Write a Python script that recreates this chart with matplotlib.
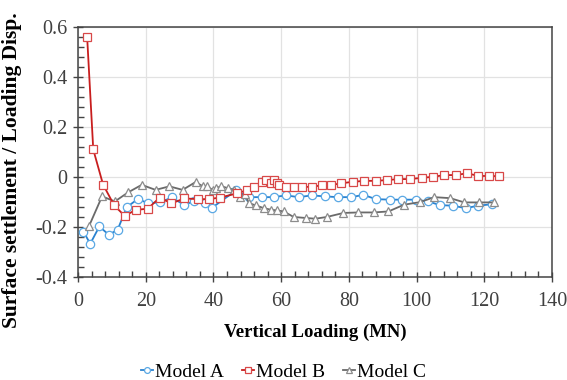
import numpy as np
import matplotlib
matplotlib.use('Agg')
import matplotlib.pyplot as plt
from matplotlib.ticker import MultipleLocator

plt.rcParams['font.family'] = ['Liberation Serif', 'DejaVu Serif']

# Model A (circles)
a_x = [1.6, 3.6, 6.3, 9.1, 11.7, 14.4, 17.6, 20.8, 24.3, 27.7, 31.2, 34.4, 37.4, 39.6,
       46.7, 50.5, 54.3, 57.8, 61.4, 65.2, 69.0, 72.9, 76.8, 80.7, 84.3, 88.0,
       92.1, 95.8, 99.7, 103.3, 107.0, 110.7, 114.5, 118.2, 122.4]
a_y = [-0.217, -0.266, -0.197, -0.23, -0.21, -0.12, -0.088, -0.104, -0.101, -0.081, -0.11, -0.097, -0.104, -0.122,
       -0.053, -0.08, -0.08, -0.08, -0.073, -0.08, -0.073, -0.077, -0.08, -0.08, -0.071, -0.088,
       -0.09, -0.09, -0.09, -0.097, -0.112, -0.114, -0.124, -0.114, -0.108]

# Model B (squares)
b_x = [2.7, 4.5, 7.4, 10.7, 13.8, 17.0, 20.6, 24.1, 27.6, 31.4, 35.4, 38.6, 41.8,
       47.0, 49.9, 51.9, 54.4, 55.4, 56.9, 57.9, 58.9, 59.4, 61.4, 63.8, 66.3, 69.2,
       72.2, 74.7, 77.6, 81.1, 84.6, 88.0, 91.2, 94.6, 98.1, 101.5, 104.9, 108.2,
       111.5, 114.9, 118.2, 121.3, 124.2]
b_y = [0.557, 0.11, -0.03, -0.113, -0.155, -0.131, -0.126, -0.082, -0.105, -0.085, -0.088, -0.088, -0.082,
       -0.065, -0.052, -0.039, -0.019, -0.012, -0.025, -0.012, -0.025, -0.032, -0.039, -0.039, -0.039, -0.039,
       -0.032, -0.032, -0.025, -0.019, -0.015, -0.015, -0.012, -0.008, -0.008, -0.003, 0.001, 0.008,
       0.008, 0.015, 0.005, 0.004, 0.004]

# Model C (triangles)
c_x = [3.3, 7.1, 10.9, 14.8, 18.8, 22.9, 27.0, 30.9, 34.7, 36.9, 38.0, 39.8, 40.8, 42.3, 44.3, 46.2,
       47.7, 49.2, 50.5, 52.5, 54.9, 56.9, 58.8, 60.7, 63.7, 67.2, 70.1, 73.5, 78.4, 82.8, 87.3,
       91.7, 96.3, 101.0, 105.2, 109.9, 114.1, 118.5, 123.0]
c_y = [-0.194, -0.077, -0.097, -0.061, -0.031, -0.051, -0.037, -0.051, -0.02, -0.037, -0.037, -0.051, -0.044, -0.037, -0.044, -0.051,
       -0.08, -0.067, -0.104, -0.113, -0.124, -0.13, -0.133, -0.137, -0.159, -0.163, -0.166, -0.159, -0.143, -0.141, -0.141,
       -0.137, -0.11, -0.1, -0.08, -0.084, -0.101, -0.101, -0.101]

fig = plt.figure(figsize=(5.67, 3.8), dpi=100)
ax = fig.add_axes([0.1376, 0.270, 0.836, 0.660])

ms = 6
ax.plot(a_x, a_y, '-o', color='#2a82d0', lw=1.3, ms=ms, mfc='white',
        mec='#5aa8e4', mew=0.9, label='Model A', zorder=3)
ax.plot(b_x, b_y, '-s', color='#c81e1e', lw=1.3, ms=ms, mfc='white',
        mec='#d84848', mew=0.9, label='Model B', zorder=4)
ax.plot(c_x, c_y, '-^', color='#6a6a6a', lw=1.3, ms=ms, mfc='white',
        mec='#8c8c8c', mew=0.9, label='Model C', zorder=3)

ax.set_xlim(0, 140)
ax.set_ylim(-0.4, 0.6)
ax.xaxis.set_major_locator(MultipleLocator(20))
ax.xaxis.set_minor_locator(MultipleLocator(4))
ax.yaxis.set_minor_locator(MultipleLocator(0.04))
ax.set_yticks([-0.4, -0.2, 0, 0.2, 0.4, 0.6])
ax.set_yticklabels(['-0.4', '-0.2', '0', '0.2', '0.4', '0.6'])

ax.grid(True, which='major', color='#e2e2e2', lw=0.9, zorder=0)
ax.set_axisbelow(True)
ax.tick_params(which='major', direction='inout', length=7, width=1, color='#444444',
               labelsize=14.5, labelcolor='#404040', pad=4)
ax.tick_params(which='minor', direction='in', length=4, width=1, color='#444444')
ax.tick_params(axis='x', which='major', pad=7)
for s in ax.spines.values():
    s.set_color('#444444')
    s.set_linewidth(1.1)

ax.set_xlabel('Vertical Loading (MN)', fontsize=13.5, fontweight='bold', labelpad=9)
ax.set_ylabel('Surface settlement / Loading Disp.', fontsize=15.5, fontweight='bold')
ax.yaxis.set_label_coords(-0.118, 0.428)

fig.legend(loc='center', bbox_to_anchor=(0.5, 0.02), ncol=3, frameon=False,
           fontsize=14, handlelength=0.65, handletextpad=0.1, columnspacing=0.9,
           markerscale=0.7)

fig.savefig('out.png', dpi=100)
